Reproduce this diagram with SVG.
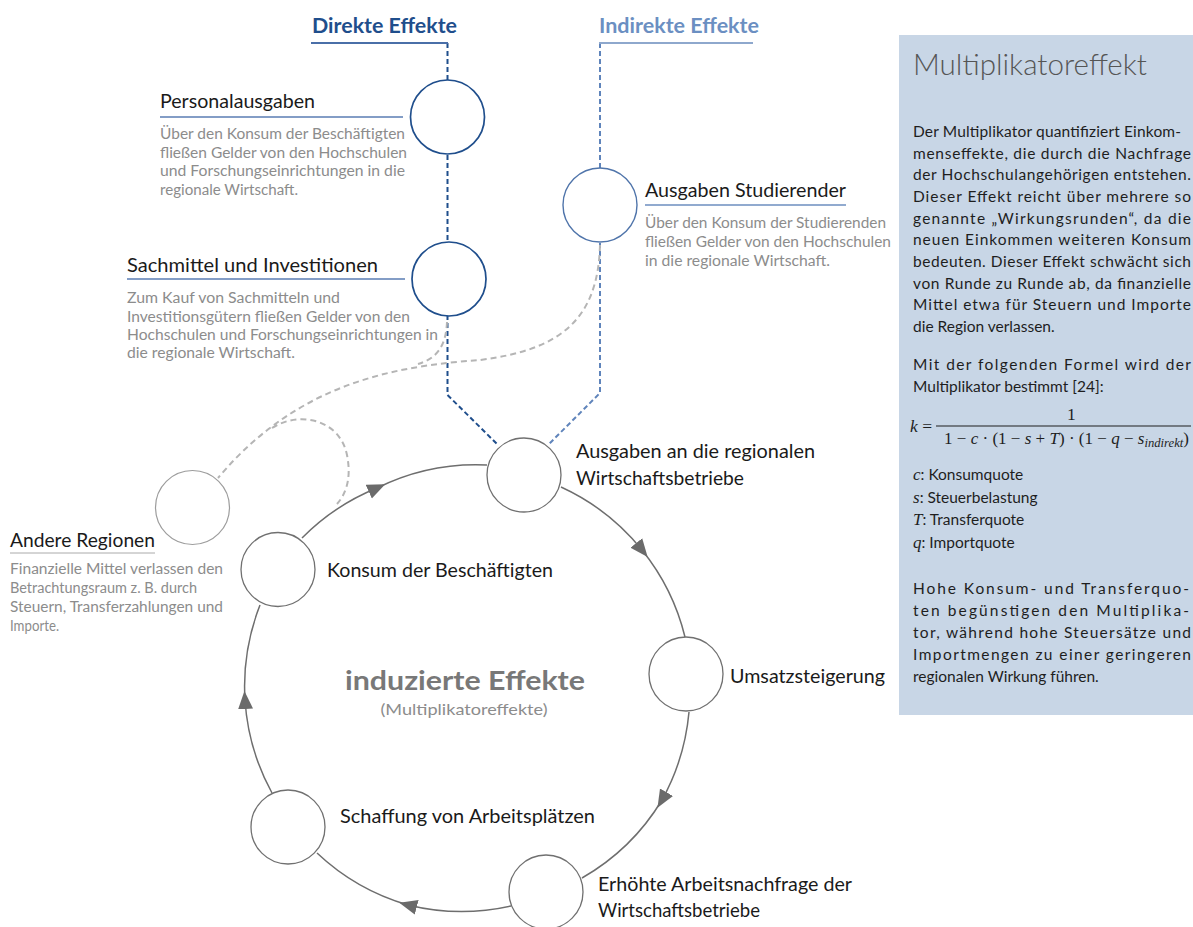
<svg xmlns="http://www.w3.org/2000/svg" width="1193" height="927" viewBox="0 0 1193 927">
<defs>
<marker id="arr" viewBox="0 -8 18 16" refX="9" refY="0" markerWidth="18" markerHeight="16" markerUnits="userSpaceOnUse" orient="auto"><path d="M0,-7.5 L18,0 L0,7.5 z" fill="#6b6b6b"/></marker>
<style>
text{font-family:Lato,"Open Sans","Noto Sans",sans-serif}
.h{font-size:19px;fill:#1a1a1a}
.d{font-size:14.5px;fill:#8c8c8c}
.b{font-size:15.5px;fill:#1e1e1e}
.m{font-family:"Liberation Serif","DejaVu Serif",serif;font-size:17.5px;fill:#1e1e1e}
.v{font-family:"Liberation Serif","DejaVu Serif",serif;font-size:17px;font-style:italic}
.i{font-style:italic}
.ring{fill:none;stroke:#6e6e6e;stroke-width:1.5;marker-mid:url(#arr)}
.node{fill:#fff;stroke:#707070;stroke-width:1.3}
.dn{fill:#fff;stroke:#1f4e8c;stroke-width:1.7}
.in{fill:#fff;stroke:#4f74aa;stroke-width:1.4}
.on{fill:#fff;stroke:#9c9c9c;stroke-width:1.2}
.dd{fill:none;stroke:#1f4e8c;stroke-width:2;stroke-dasharray:5 3}
.id{fill:none;stroke:#5f84bb;stroke-width:2;stroke-dasharray:5 3}
.gd{fill:none;stroke:#b5b5b5;stroke-width:2;stroke-dasharray:6 4}
</style>
</defs>
<rect id="box" x="899" y="35" width="294" height="680" fill="#c8d6e6"/>

<g id="connectors">
<path class="dd" d="M447.5 43 V395 L498 445"/>
<path class="id" d="M600 43 V393 L548 445"/>
<path class="gd" d="M600 245 C598 320 560 350 480 360 C400 366 300 380 218 478"/>
<path class="gd" d="M447 322 C446 345 438 358 418 364"/>
<path class="gd" d="M272 428 C300 410 340 420 347 455 C352 480 345 495 337 504"/>
<path class="ring" d="M302 538 A223 223 0 0 1 377 488 A223 223 0 0 1 487 465"/>
<path class="ring" d="M561 487 A223 223 0 0 1 642 550 A223 223 0 0 1 685 637"/>
<path class="ring" d="M689 712 A223 223 0 0 1 662 800 A223 223 0 0 1 582 878"/>
<path class="ring" d="M511 906 A223 223 0 0 1 408 905 A223 223 0 0 1 317 853"/>
<path class="ring" d="M272 793 A223 223 0 0 1 245 700 A223 223 0 0 1 260 605"/>
</g>

<g id="header-direkt">
<text x="312" y="33" font-size="21" font-weight="700" fill="#1f4e8c" textLength="145" lengthAdjust="spacingAndGlyphs">Direkte Effekte</text>
<line x1="311" y1="43" x2="448" y2="43" stroke="#4a6fa8" stroke-width="2"/>
</g>
<g id="header-indirekt">
<text x="599" y="33" font-size="21" font-weight="700" fill="#6b8fc2" textLength="160" lengthAdjust="spacingAndGlyphs">Indirekte Effekte</text>
<line x1="599" y1="43" x2="753" y2="43" stroke="#8ea8cd" stroke-width="2"/>
</g>

<g id="personalausgaben">
<circle class="dn" cx="447.5" cy="117" r="37"/>
<text class="h" x="160" y="108" textLength="155" lengthAdjust="spacingAndGlyphs">Personalausgaben</text>
<line x1="160" y1="117" x2="403" y2="117" stroke="#5a7db3" stroke-width="1.5"/>
<text class="d" x="160" y="139" textLength="245" lengthAdjust="spacingAndGlyphs">Über den Konsum der Beschäftigten</text>
<text class="d" x="160" y="158" textLength="247" lengthAdjust="spacingAndGlyphs">fließen Gelder von den Hochschulen</text>
<text class="d" x="160" y="176" textLength="245" lengthAdjust="spacingAndGlyphs">und Forschungseinrichtungen in die</text>
<text class="d" x="160" y="195" textLength="138" lengthAdjust="spacingAndGlyphs">regionale Wirtschaft.</text>
</g>

<g id="sachmittel">
<circle class="dn" cx="449" cy="279" r="37"/>
<text class="h" x="127" y="272" textLength="251" lengthAdjust="spacingAndGlyphs">Sachmittel und Investitionen</text>
<line x1="127" y1="279" x2="405" y2="279" stroke="#5a7db3" stroke-width="1.5"/>
<text class="d" x="127" y="303" textLength="213" lengthAdjust="spacingAndGlyphs">Zum Kauf von Sachmitteln und</text>
<text class="d" x="127" y="322" textLength="283" lengthAdjust="spacingAndGlyphs">Investitionsgütern fließen Gelder von den</text>
<text class="d" x="127" y="340" textLength="311" lengthAdjust="spacingAndGlyphs">Hochschulen und Forschungseinrichtungen in</text>
<text class="d" x="127" y="358" textLength="168" lengthAdjust="spacingAndGlyphs">die regionale Wirtschaft.</text>
</g>

<g id="studierende">
<circle class="in" cx="600" cy="205" r="37"/>
<text class="h" x="645" y="197" textLength="201" lengthAdjust="spacingAndGlyphs">Ausgaben Studierender</text>
<line x1="645" y1="205" x2="846" y2="205" stroke="#6d8ebf" stroke-width="1.5"/>
<text class="d" x="645" y="228" textLength="241" lengthAdjust="spacingAndGlyphs">Über den Konsum der Studierenden</text>
<text class="d" x="645" y="247" textLength="246" lengthAdjust="spacingAndGlyphs">fließen Gelder von den Hochschulen</text>
<text class="d" x="645" y="266" textLength="185" lengthAdjust="spacingAndGlyphs">in die regionale Wirtschaft.</text>
</g>

<g id="andere-regionen">
<circle class="on" cx="192.5" cy="507.5" r="37"/>
<text class="h" x="10" y="547" textLength="145" lengthAdjust="spacingAndGlyphs">Andere Regionen</text>
<line x1="10" y1="553" x2="155" y2="553" stroke="#aaaaaa" stroke-width="1"/>
<text class="d" x="10" y="574" textLength="213" lengthAdjust="spacingAndGlyphs">Finanzielle Mittel verlassen den</text>
<text class="d" x="10" y="593" textLength="187" lengthAdjust="spacingAndGlyphs">Betrachtungsraum z. B. durch</text>
<text class="d" x="10" y="612" textLength="213" lengthAdjust="spacingAndGlyphs">Steuern, Transferzahlungen und</text>
<text class="d" x="10" y="631" textLength="49" lengthAdjust="spacingAndGlyphs">Importe.</text>
</g>

<g id="ausgaben-betriebe">
<circle class="node" cx="524" cy="475" r="37"/>
<text class="h" x="576" y="458" textLength="239" lengthAdjust="spacingAndGlyphs">Ausgaben an die regionalen</text>
<text class="h" x="576" y="485" textLength="168" lengthAdjust="spacingAndGlyphs">Wirtschaftsbetriebe</text>
</g>

<g id="umsatz">
<circle class="node" cx="686" cy="674" r="37"/>
<text class="h" x="730" y="683" textLength="155" lengthAdjust="spacingAndGlyphs">Umsatzsteigerung</text>
</g>

<g id="arbeitsnachfrage">
<circle class="node" cx="546" cy="892" r="37"/>
<text class="h" x="598" y="891" textLength="254" lengthAdjust="spacingAndGlyphs">Erhöhte Arbeitsnachfrage der</text>
<text class="h" x="598" y="917" textLength="162" lengthAdjust="spacingAndGlyphs">Wirtschaftsbetriebe</text>
</g>

<g id="arbeitsplaetze">
<circle class="node" cx="288" cy="827" r="37"/>
<text class="h" x="340" y="823" textLength="255" lengthAdjust="spacingAndGlyphs">Schaffung von Arbeitsplätzen</text>
</g>

<g id="konsum">
<circle class="node" cx="278" cy="569.5" r="37"/>
<text class="h" x="327" y="577" textLength="226" lengthAdjust="spacingAndGlyphs">Konsum der Beschäftigten</text>
</g>

<g id="zentrum">
<text x="465" y="690" text-anchor="middle" font-size="27" font-weight="700" fill="#787878" textLength="240" lengthAdjust="spacingAndGlyphs">induzierte Effekte</text>
<text x="464" y="715" text-anchor="middle" font-size="16" fill="#8c8c8c" textLength="167" lengthAdjust="spacingAndGlyphs">(Multiplikatoreffekte)</text>
</g>

<g id="multiplikator-box">
<text x="913" y="75" font-size="29" font-weight="300" fill="#555555" textLength="234" lengthAdjust="spacingAndGlyphs">Multiplikatoreffekt</text>
<text class="b" x="913" y="137" textLength="268" lengthAdjust="spacing">Der Multiplikator quantifiziert Einkom-</text>
<text class="b" x="913" y="159" textLength="278" lengthAdjust="spacing">menseffekte, die durch die Nachfrage</text>
<text class="b" x="913" y="180" textLength="278" lengthAdjust="spacing">der Hochschulangehörigen entstehen.</text>
<text class="b" x="913" y="202" textLength="278" lengthAdjust="spacing">Dieser Effekt reicht über mehrere so</text>
<text class="b" x="913" y="224" textLength="278" lengthAdjust="spacing">genannte „Wirkungsrunden“, da die</text>
<text class="b" x="913" y="245" textLength="278" lengthAdjust="spacing">neuen Einkommen weiteren Konsum</text>
<text class="b" x="913" y="267" textLength="278" lengthAdjust="spacing">bedeuten. Dieser Effekt schwächt sich</text>
<text class="b" x="913" y="289" textLength="278" lengthAdjust="spacing">von Runde zu Runde ab, da finanzielle</text>
<text class="b" x="913" y="310" textLength="278" lengthAdjust="spacing">Mittel etwa für Steuern und Importe</text>
<text class="b" x="913" y="332">die Region verlassen.</text>
<text class="b" x="913" y="370" textLength="278" lengthAdjust="spacing">Mit der folgenden Formel wird der</text>
<text class="b" x="913" y="392">Multiplikator bestimmt [24]:</text>
<text class="m" x="910" y="432"><tspan class="i">k</tspan> =</text>
<text class="m" x="1067" y="420">1</text>
<line x1="936" y1="426" x2="1191" y2="426" stroke="#1e1e1e" stroke-width="1"/>
<text class="m" x="944" y="444" textLength="245" lengthAdjust="spacingAndGlyphs">1 − <tspan class="i">c</tspan> · (1 − <tspan class="i">s</tspan> + <tspan class="i">T</tspan>) · (1 − <tspan class="i">q</tspan> − <tspan class="i">s</tspan><tspan class="i" font-size="13" dy="3">indirekt</tspan><tspan dy="-3">)</tspan></text>
<text class="b" x="913" y="480"><tspan class="v">c</tspan>: Konsumquote</text>
<text class="b" x="913" y="503"><tspan class="v">s</tspan>: Steuerbelastung</text>
<text class="b" x="913" y="525"><tspan class="v">T</tspan>: Transferquote</text>
<text class="b" x="913" y="548"><tspan class="v">q</tspan>: Importquote</text>
<text class="b" x="913" y="594" textLength="276" lengthAdjust="spacing">Hohe Konsum- und Transferquo-</text>
<text class="b" x="913" y="616" textLength="276" lengthAdjust="spacing">ten begünstigen den Multiplika-</text>
<text class="b" x="913" y="638" textLength="278" lengthAdjust="spacing">tor, während hohe Steuersätze und</text>
<text class="b" x="913" y="660" textLength="278" lengthAdjust="spacing">Importmengen zu einer geringeren</text>
<text class="b" x="913" y="682">regionalen Wirkung führen.</text>
</g>
</svg>
